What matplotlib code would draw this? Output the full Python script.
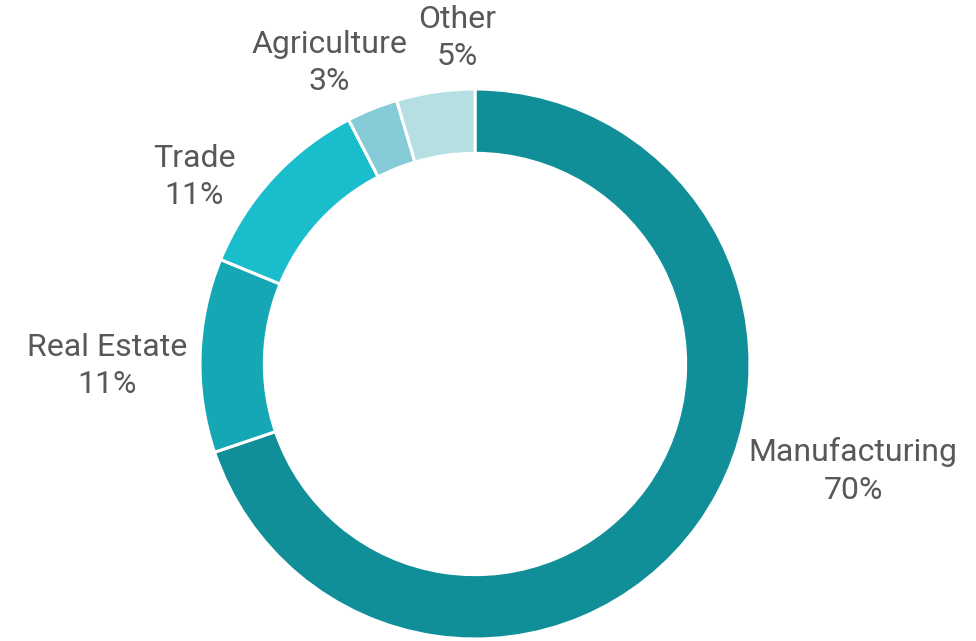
import matplotlib.pyplot as plt

# Datos do gráfico (percentagens por setor)
sectors = ["Manufacturing", "Real Estate", "Trade", "Agriculture", "Other"]
shares = [69.8, 11.4, 11.2, 3.0, 4.6]
colors = ["#118f99", "#15a7b4", "#1abdcc", "#85ccd8", "#b6dfe4"]

# Posições dos rótulos (coordenadas do eixo, raio exterior = 1)
label_pos = [(1.375, -0.389), (-1.338, -0.007), (-1.022, 0.680),
             (-0.531, 1.095), (-0.065, 1.185)]

plt.rcParams['font.family'] = ['Roboto', 'DejaVu Sans']

fig = plt.figure(figsize=(9.76, 6.41), dpi=100)
ax = fig.add_axes([0, 0, 1, 1])

ax.pie(shares, colors=colors, startangle=90, counterclock=False, radius=1,
       wedgeprops=dict(width=0.234, edgecolor='white', linewidth=2.2))

total = sum(shares)
for name, val, (x, y) in zip(sectors, shares, label_pos):
    ax.text(x, y, f"{name}\n{val / total * 100:.0f}%", fontsize=23,
            color='#585858', ha='center', va='center', linespacing=1.36)

# Limites para posicionar o centro do anel como na referência
ax.set_xlim(-475 / 275, (976 - 475) / 275)
ax.set_ylim(-277 / 275, (641 - 277) / 275)
ax.set_aspect('equal')
ax.axis('off')

plt.savefig("out.png", dpi=100)
